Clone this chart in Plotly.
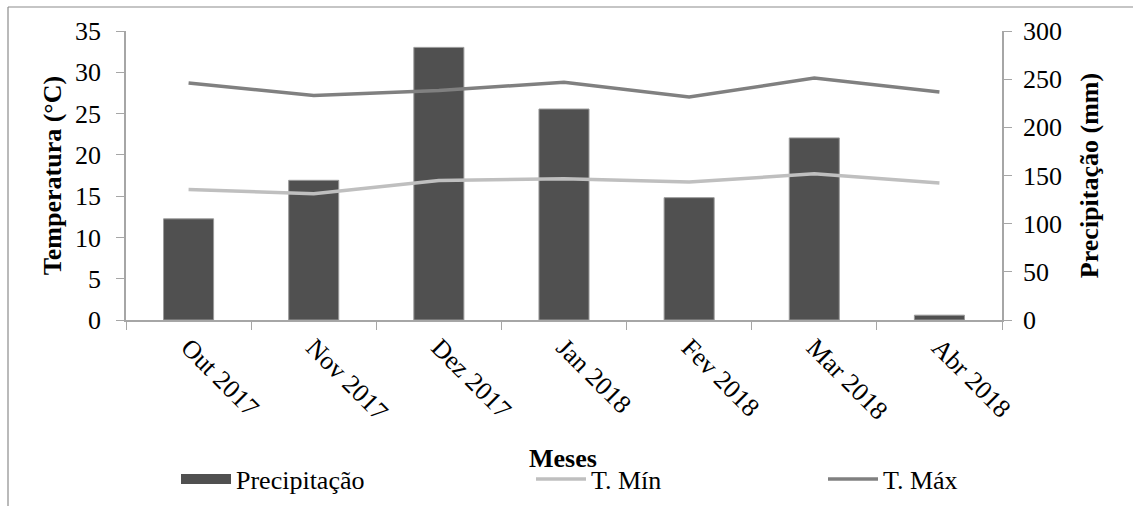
import plotly.graph_objects as go

# Monthly climate data
meses = ["Out 2017", "Nov 2017", "Dez 2017", "Jan 2018", "Fev 2018", "Mar 2018", "Abr 2018"]
precipitacao = [105, 145, 283, 219, 127, 189, 5]        # mm
t_min = [15.8, 15.3, 16.9, 17.1, 16.7, 17.7, 16.6]       # °C
t_max = [28.7, 27.2, 27.8, 28.8, 27.0, 29.3, 27.6]       # °C

FONT = "Liberation Serif, Times New Roman, serif"
AXIS_GRAY = "#a6a6a6"
BAR_COLOR = "#505050"

W, H = 1133, 506
L, R, T, B = 126, 131, 31, 186
PW, PH = W - L - R, H - T - B


def px_x(px):
    return (px - L) / PW


def px_y(py):
    return (H - B - py) / PH


fig = go.Figure()

fig.add_trace(go.Bar(
    x=meses, y=precipitacao, name="Precipitação", yaxis="y",
    marker=dict(color=BAR_COLOR, line=dict(color="#9a9a9a", width=1)),
    width=0.4, showlegend=False, legendgroup="prec",
))
# legend entry for the bars, drawn as a wide swatch
fig.add_trace(go.Scatter(
    x=[None], y=[None], name="Precipitação", yaxis="y", mode="lines",
    line=dict(color=BAR_COLOR, width=13), legend="legend", legendgroup="prec",
))
fig.add_trace(go.Scatter(
    x=meses, y=t_min, name="T. Mín", yaxis="y2", mode="lines",
    line=dict(color="#bfbfbf", width=3.5), legend="legend2",
))
fig.add_trace(go.Scatter(
    x=meses, y=t_max, name="T. Máx", yaxis="y2", mode="lines",
    line=dict(color="#808080", width=3.5), legend="legend3",
))

tick_font = dict(family=FONT, size=26, color="black")
title_font = dict(family=FONT, size=26, color="black", weight="bold")
legend_font = dict(family=FONT, size=26, color="black")

legend_common = dict(orientation="h", yanchor="middle", xanchor="left",
                     font=legend_font, bgcolor="rgba(0,0,0,0)",
                     borderwidth=0, y=px_y(479), itemwidth=50)

fig.update_layout(
    width=W, height=H,
    margin=dict(l=L, r=R, t=T, b=B, pad=0, autoexpand=False),
    paper_bgcolor="white", plot_bgcolor="white",
    font=dict(family=FONT, color="black"),
    showlegend=True,
    xaxis=dict(
        type="category", range=[-0.5, 6.5], tickson="boundaries",
        ticks="outside", ticklen=8, tickcolor=AXIS_GRAY, tickwidth=1,
        showline=True, linecolor=AXIS_GRAY, linewidth=1.5,
        showgrid=False, zeroline=False, tickangle=45,
        tickfont=tick_font, automargin=False,
    ),
    yaxis=dict(
        side="right", range=[0, 300], dtick=50, tick0=0,
        ticks="outside", ticklen=8, tickcolor=AXIS_GRAY, tickwidth=1,
        showline=True, linecolor=AXIS_GRAY, linewidth=1.5,
        showgrid=False, zeroline=False, tickfont=tick_font,
        ticklabelstandoff=6, automargin=False,
        title=dict(text="Precipitação (mm)", font=title_font, standoff=19),
    ),
    yaxis2=dict(
        side="left", overlaying="y", range=[0, 35], dtick=5, tick0=0,
        ticks="outside", ticklen=8, tickcolor=AXIS_GRAY, tickwidth=1,
        showline=True, linecolor=AXIS_GRAY, linewidth=1.5,
        showgrid=False, zeroline=False, tickfont=tick_font,
        ticklabelstandoff=10, automargin=False,
        title=dict(text="Temperatura (°C)", font=title_font, standoff=6),
    ),
    legend=dict(legend_common, x=px_x(176)),
    legend2=dict(legend_common, x=px_x(531)),
    legend3=dict(legend_common, x=px_x(823)),
    annotations=[dict(
        text="<b>Meses</b>", xref="paper", yref="paper",
        x=px_x(563), y=px_y(458), xanchor="center", yanchor="middle",
        showarrow=False, font=dict(family=FONT, size=26, color="black"),
    )],
    shapes=[
        # chart-area frame (left and top edges)
        dict(type="line", xref="paper", yref="paper",
             x0=px_x(8), x1=px_x(8), y0=px_y(7), y1=px_y(H + 2),
             line=dict(color="#8c8c8c", width=1.2)),
        dict(type="line", xref="paper", yref="paper",
             x0=px_x(8), x1=px_x(W + 2), y0=px_y(7), y1=px_y(7),
             line=dict(color="#8c8c8c", width=1.2)),
    ],
)

fig.write_html("out.html")
